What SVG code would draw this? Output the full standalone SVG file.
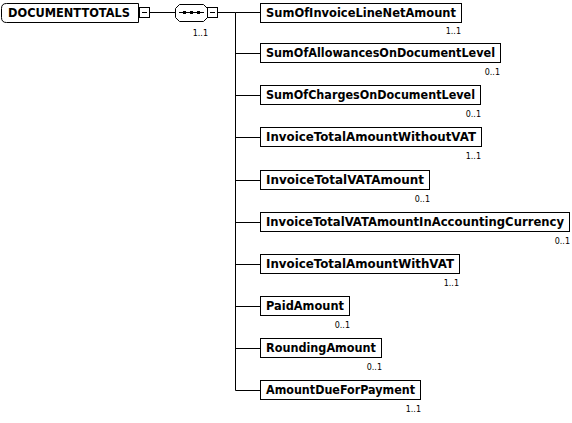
<svg xmlns="http://www.w3.org/2000/svg" width="572" height="423" viewBox="0 0 572 423">
<style>
.bg{fill:#ffffff}
.box{fill:#ffffff;stroke:#000000;stroke-width:1}
.ln{fill:none;stroke:#000000;stroke-width:1}
.lbl{font-family:"DejaVu Sans",Verdana,sans-serif;font-weight:bold;font-size:11.5px;fill:#000000}
.mult{font-family:"DejaVu Sans",Verdana,sans-serif;font-size:8px;fill:#000000;text-anchor:end}
</style>
<rect class="bg" x="0" y="0" width="572" height="423"/>
<g id="connectors">
<line class="ln" x1="149" y1="12.5" x2="175" y2="12.5"/>
<line class="ln" x1="218" y1="12.5" x2="235.5" y2="12.5"/>
<line class="ln" x1="235.5" y1="12.5" x2="235.5" y2="390.5"/>
<line class="ln" x1="235.5" y1="12.5" x2="260" y2="12.5"/>
<line class="ln" x1="235.5" y1="53.5" x2="260" y2="53.5"/>
<line class="ln" x1="235.5" y1="95.5" x2="260" y2="95.5"/>
<line class="ln" x1="235.5" y1="137.5" x2="260" y2="137.5"/>
<line class="ln" x1="235.5" y1="180.5" x2="260" y2="180.5"/>
<line class="ln" x1="235.5" y1="222.5" x2="260" y2="222.5"/>
<line class="ln" x1="235.5" y1="264.5" x2="260" y2="264.5"/>
<line class="ln" x1="235.5" y1="306.5" x2="260" y2="306.5"/>
<line class="ln" x1="235.5" y1="348.5" x2="260" y2="348.5"/>
<line class="ln" x1="235.5" y1="390.5" x2="260" y2="390.5"/>
</g>
<g id="root">
<path class="box" d="M6.5,3.5 H138.5 V22.5 H6.5 Q1.5,22.5 1.5,17.5 V8.5 Q1.5,3.5 6.5,3.5 Z"/>
<text class="lbl" x="8" y="17" textLength="122" lengthAdjust="spacingAndGlyphs">DOCUMENTTOTALS</text>
<rect class="box" x="139.5" y="7.5" width="10" height="10"/>
<line class="ln" x1="142" y1="12.5" x2="147" y2="12.5"/>
</g>
<g id="sequence">
<path class="box" d="M179.5,4.5 H203.5 L207.5,8.5 V17.5 L203.5,21.5 H179.5 L175.5,17.5 V8.5 Z"/>
<line class="ln" x1="179" y1="12.5" x2="204" y2="12.5"/>
<rect x="183" y="11" width="3" height="3" fill="#000"/>
<rect x="190" y="11" width="3" height="3" fill="#000"/>
<rect x="197" y="11" width="3" height="3" fill="#000"/>
<rect class="box" x="207.5" y="7.5" width="10" height="10"/>
<line class="ln" x1="210" y1="12.5" x2="215" y2="12.5"/>
<text class="mult" x="208" y="36">1..1</text>
</g>
<g id="n1">
<rect class="box" x="260.5" y="3.5" width="201" height="19"/>
<text class="lbl" x="266" y="17" textLength="190" lengthAdjust="spacingAndGlyphs">SumOfInvoiceLineNetAmount</text>
<text class="mult" x="461" y="34">1..1</text>
</g>
<g id="n2">
<rect class="box" x="260.5" y="43.5" width="240" height="19"/>
<text class="lbl" x="266" y="57" textLength="229" lengthAdjust="spacingAndGlyphs">SumOfAllowancesOnDocumentLevel</text>
<text class="mult" x="500" y="75">0..1</text>
</g>
<g id="n3">
<rect class="box" x="260.5" y="85.5" width="220" height="19"/>
<text class="lbl" x="266" y="99" textLength="209" lengthAdjust="spacingAndGlyphs">SumOfChargesOnDocumentLevel</text>
<text class="mult" x="481" y="117">0..1</text>
</g>
<g id="n4">
<rect class="box" x="260.5" y="127.5" width="221" height="19"/>
<text class="lbl" x="266" y="141" textLength="210" lengthAdjust="spacingAndGlyphs">InvoiceTotalAmountWithoutVAT</text>
<text class="mult" x="481" y="159">1..1</text>
</g>
<g id="n5">
<rect class="box" x="260.5" y="170.5" width="169" height="19"/>
<text class="lbl" x="266" y="184" textLength="158" lengthAdjust="spacingAndGlyphs">InvoiceTotalVATAmount</text>
<text class="mult" x="430" y="202">0..1</text>
</g>
<g id="n6">
<rect class="box" x="260.5" y="212.5" width="309" height="19"/>
<text class="lbl" x="266" y="226" textLength="298" lengthAdjust="spacingAndGlyphs">InvoiceTotalVATAmountInAccountingCurrency</text>
<text class="mult" x="570" y="244">0..1</text>
</g>
<g id="n7">
<rect class="box" x="260.5" y="254.5" width="199" height="19"/>
<text class="lbl" x="266" y="268" textLength="188" lengthAdjust="spacingAndGlyphs">InvoiceTotalAmountWithVAT</text>
<text class="mult" x="459" y="286">1..1</text>
</g>
<g id="n8">
<rect class="box" x="260.5" y="296.5" width="89" height="19"/>
<text class="lbl" x="266" y="310" textLength="78" lengthAdjust="spacingAndGlyphs">PaidAmount</text>
<text class="mult" x="350" y="328">0..1</text>
</g>
<g id="n9">
<rect class="box" x="260.5" y="338.5" width="121" height="19"/>
<text class="lbl" x="266" y="352" textLength="110" lengthAdjust="spacingAndGlyphs">RoundingAmount</text>
<text class="mult" x="382" y="370">0..1</text>
</g>
<g id="n10">
<rect class="box" x="260.5" y="380.5" width="160" height="19"/>
<text class="lbl" x="266" y="394" textLength="149" lengthAdjust="spacingAndGlyphs">AmountDueForPayment</text>
<text class="mult" x="421" y="412">1..1</text>
</g>
</svg>
